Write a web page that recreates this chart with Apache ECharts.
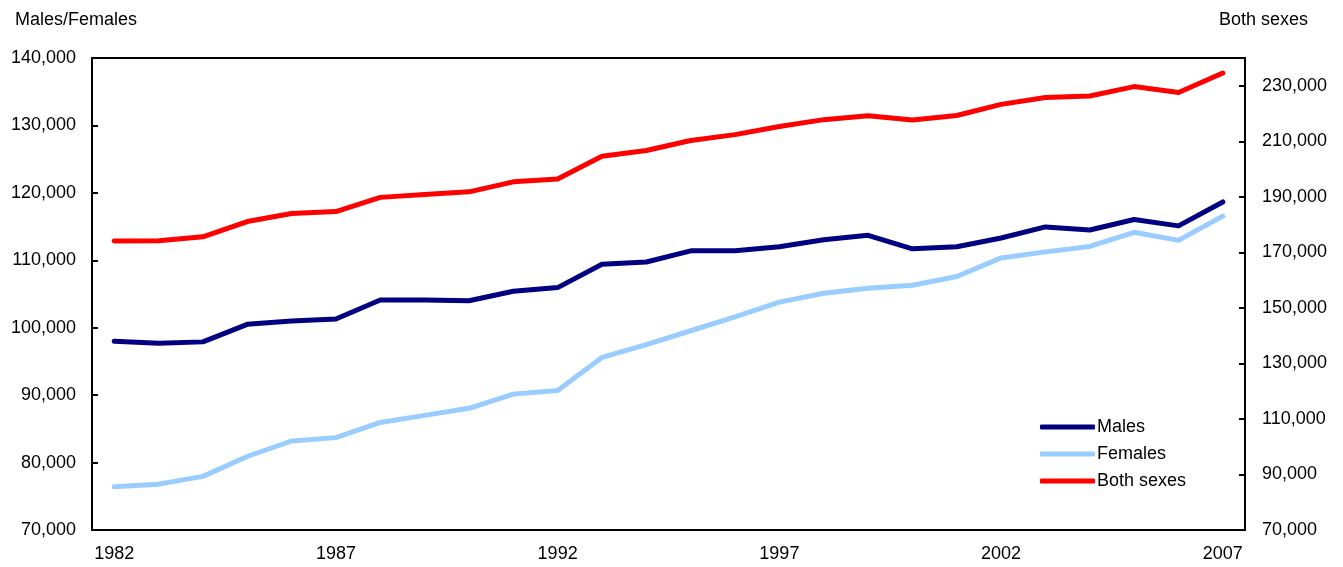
<!DOCTYPE html>
<html>
<head>
<meta charset="utf-8">
<script src="https://cdn.jsdelivr.net/npm/echarts@6/dist/echarts.min.js"></script>
<style>
	html,body{margin:0;padding:0;background:#fff;}
	#chart{width:1343px;height:567px;}
</style>
</head>
<body>
<div id="chart"></div>
<script>
const years=['1982','1983','1984','1985','1986','1987','1988','1989','1990','1991','1992','1993','1994',
	'1995','1996','1997','1998','1999','2000','2001','2002','2003','2004','2005','2006','2007'];
const males=[98000,97700,97900,100500,101000,101300,104100,104100,104000,105400,105950,109400,109750,
	111400,111400,112000,113050,113700,111700,112000,113300,114950,114500,116050,115100,118650];
const females=[76400,76800,77950,80900,83200,83700,85950,87000,88050,90150,90700,95600,97500,
	99550,101600,103800,105100,105850,106300,107600,110350,111250,112050,114150,112950,116550];
const bothSexes=[174100,174200,175600,181100,184000,184700,189800,190800,191800,195400,196400,204600,206700,
	210300,212400,215300,217800,219200,217700,219300,223300,225800,226300,229700,227600,234600];

const font='"Liberation Sans", Arial, Helvetica, sans-serif';
const fmt=(v)=>v.toLocaleString('en-US');

let myChart=echarts.init(document.getElementById('chart'));
let option={
	backgroundColor:'#fff',
	animation:false,
	textStyle:{fontFamily:font,color:'#000'},
	title:[
		{text:'Males/Females',left:10,top:6,textStyle:{fontSize:18,fontWeight:'normal',color:'#000',fontFamily:font}},
		{text:'Both sexes',right:30,top:6,textStyle:{fontSize:18,fontWeight:'normal',color:'#000',fontFamily:font}}
	],
	grid:{left:92,right:98,top:58,bottom:37,show:true,borderColor:'#000',borderWidth:2,containLabel:false},
	legend:{
		orient:'vertical',
		left:1035,
		top:413,
		itemWidth:55,
		itemHeight:5,
		itemGap:9,
		icon:'roundRect',
		textStyle:{fontSize:18,color:'#000',fontFamily:font,padding:[0,0,0,-3]},
		data:['Males','Females','Both sexes']
	},
	xAxis:{
		type:'category',
		data:years,
		boundaryGap:true,
		axisLine:{lineStyle:{color:'#000',width:2}},
		axisTick:{inside:true,length:7,interval:0,lineStyle:{color:'#000',width:2}},
		axisLabel:{interval:4,fontSize:18,color:'#000',margin:15,fontFamily:font},
		splitLine:{show:false}
	},
	yAxis:[
		{
			type:'value',
			min:70000,max:140000,interval:10000,
			axisLine:{show:true,lineStyle:{color:'#000',width:2}},
			axisTick:{show:true,inside:true,length:6,lineStyle:{color:'#000',width:2}},
			axisLabel:{fontSize:18,color:'#000',margin:16,fontFamily:font,formatter:fmt},
			splitLine:{show:false}
		},
		{
			type:'value',
			position:'right',
			min:70000,max:240000,interval:20000,
			axisLine:{show:true,lineStyle:{color:'#000',width:2}},
			axisTick:{show:true,inside:true,length:6,lineStyle:{color:'#000',width:2}},
			axisLabel:{fontSize:18,color:'#000',margin:17,fontFamily:font,
				formatter:(v)=>v==240000?'':fmt(v)},
			splitLine:{show:false}
		}
	],
	series:[
		{name:'Males',type:'line',data:males,yAxisIndex:0,symbol:'none',
			lineStyle:{color:'#000080',width:5,cap:'round',join:'round'},itemStyle:{color:'#000080'}},
		{name:'Females',type:'line',data:females,yAxisIndex:0,symbol:'none',
			lineStyle:{color:'#99ccff',width:5,cap:'round',join:'round'},itemStyle:{color:'#99ccff'}},
		{name:'Both sexes',type:'line',data:bothSexes,yAxisIndex:1,symbol:'none',
			lineStyle:{color:'#ff0000',width:5,cap:'round',join:'round'},itemStyle:{color:'#ff0000'}}
	]
};
myChart.setOption(option,true);
</script>
</body>
</html>
